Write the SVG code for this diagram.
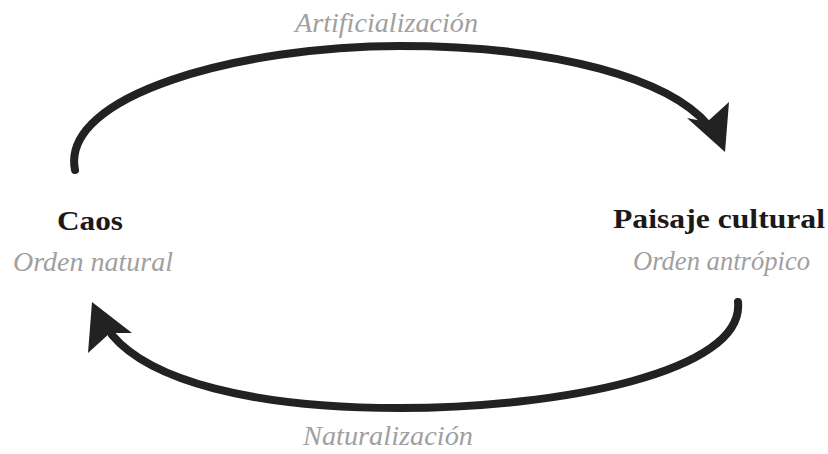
<svg xmlns="http://www.w3.org/2000/svg" width="828" height="454" viewBox="0 0 828 454" font-family="'Liberation Serif', 'Times New Roman', serif">
<rect width="828" height="454" fill="#fff"/>
<g id="connectors" fill="none" stroke="#222" stroke-width="8" stroke-linecap="round">
<path d="M75,170 C60,95 240,46 400,46 C560,46 670,80 708,125"/>
<polygon fill="#222" stroke="none" points="729,102 725,152 687,118 707,122"/>
<path d="M738,302 C745,372 560,408 400,408 C250,408 150,380 112,335"/>
<polygon fill="#222" stroke="none" points="92,302 132,333 110,333 88,353"/>
</g>
<g id="labels" font-style="italic" font-size="27" fill="#a0a0a0">
<text x="295" y="32" textLength="183" lengthAdjust="spacingAndGlyphs">Artificialización</text>
<text x="303" y="445" textLength="170" lengthAdjust="spacingAndGlyphs">Naturalización</text>
</g>
<g id="caos">
<text x="57" y="230" font-weight="bold" font-size="28" fill="#1a1a1a" textLength="66" lengthAdjust="spacingAndGlyphs">Caos</text>
<text x="13" y="271" font-style="italic" font-size="27" fill="#a0a0a0" textLength="160" lengthAdjust="spacingAndGlyphs">Orden natural</text>
</g>
<g id="paisaje">
<text x="613" y="228" font-weight="bold" font-size="28" fill="#1a1a1a" textLength="212" lengthAdjust="spacingAndGlyphs">Paisaje cultural</text>
<text x="633" y="270" font-style="italic" font-size="27" fill="#a0a0a0" textLength="177" lengthAdjust="spacingAndGlyphs">Orden antrópico</text>
</g>
</svg>
